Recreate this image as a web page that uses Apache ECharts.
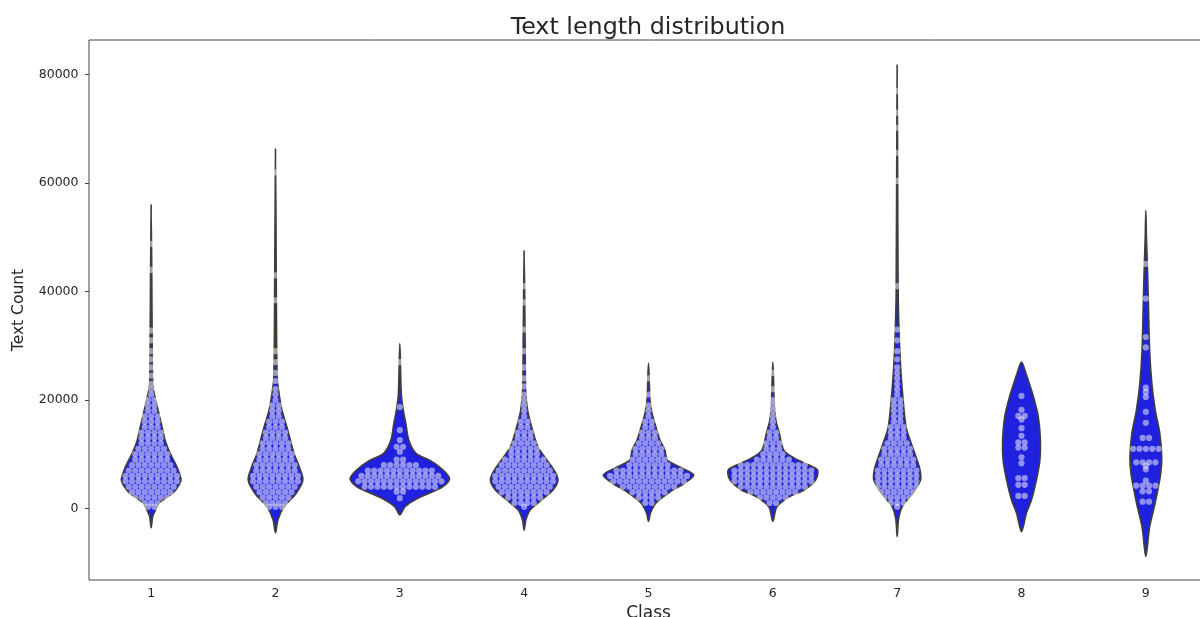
<!DOCTYPE html>
<html>
<head>
<meta charset="utf-8">
<title>Text length distribution</title>
<script src="https://cdn.jsdelivr.net/npm/echarts@6/dist/echarts.min.js"></script>
<style>
  html, body { margin: 0; padding: 0; background: #fff; overflow: hidden; }
  #chart { width: 1208px; height: 617px; }
</style>
</head>
<body>
<div id="chart"></div>
<script>
const CLASSES = ['1', '2', '3', '4', '5', '6', '7', '8', '9'];
const Y_TICKS = [0, 20000, 40000, 60000, 80000];

// violin outline: [text count, relative density (1 = widest violin)]
const violin1 = [[-3600, 0], [-1500, 0.03], [-830, 0.06], [1000, 0.16], [2850, 0.44], [4300, 0.56], [5240, 0.6], [6400, 0.57], [7640, 0.52], [10200, 0.38], [12600, 0.28], [15000, 0.22], [18100, 0.14], [21250, 0.06], [23100, 0.03], [32000, 0.02], [56000, 0]];
const violin2 = [[-4500, 0], [-2100, 0.05], [280, 0.17], [2850, 0.42], [5240, 0.55], [7640, 0.48], [10200, 0.37], [12600, 0.3], [15000, 0.23], [18100, 0.13], [21250, 0.07], [24000, 0.035], [35000, 0.02], [66300, 0]];
const violin3 = [[-1200, 0], [280, 0.1], [1560, 0.3], [2850, 0.6], [3960, 0.86], [5430, 1.0], [6530, 0.93], [7640, 0.8], [8900, 0.6], [10200, 0.32], [12600, 0.18], [15700, 0.12], [18100, 0.07], [21000, 0.03], [30400, 0]];
const violin4 = [[-4000, 0], [-2100, 0.035], [-280, 0.12], [1560, 0.35], [3400, 0.58], [5240, 0.68], [7080, 0.6], [8900, 0.46], [11300, 0.28], [14400, 0.17], [18100, 0.07], [22000, 0.03], [30000, 0.02], [47500, 0]];
const violin5 = [[-2400, 0], [-830, 0.04], [1010, 0.15], [2850, 0.4], [4690, 0.73], [6160, 0.91], [7640, 0.63], [8920, 0.38], [10760, 0.33], [12600, 0.23], [15000, 0.15], [17570, 0.07], [20000, 0.03], [26800, 0]];
const violin6 = [[-2400, 0], [280, 0.08], [2120, 0.33], [3400, 0.63], [5240, 0.86], [7080, 0.9], [8000, 0.73], [9290, 0.43], [10760, 0.22], [13890, 0.13], [16280, 0.06], [19000, 0.03], [27000, 0]];
const violin7 = [[-5200, 0], [-2100, 0.026], [280, 0.1], [2850, 0.32], [5240, 0.47], [7080, 0.46], [9480, 0.38], [12050, 0.28], [15000, 0.18], [19960, 0.12], [26000, 0.07], [32000, 0.04], [40000, 0.02], [81800, 0]];
const violin8 = [[-4300, 0], [-830, 0.1], [1560, 0.2], [5240, 0.3], [8920, 0.37], [12600, 0.38], [16800, 0.34], [19960, 0.26], [22400, 0.18], [24900, 0.09], [27000, 0]];
const violin9 = [[-8900, 0], [-3400, 0.076], [280, 0.17], [3400, 0.24], [6500, 0.3], [9480, 0.32], [13890, 0.28], [18100, 0.19], [23100, 0.12], [29200, 0.076], [38400, 0.05], [45000, 0.03], [50000, 0.012], [55000, 0]];

// swarm points: [text count, number of dots at that level]
const swarm1 = [[300, 2], [1000, 3], [2000, 6], [3000, 7], [4000, 8], [5000, 9], [6000, 9], [7000, 8], [8000, 7], [9000, 6], [10000, 6], [11000, 5], [12000, 4], [13000, 4], [14000, 4], [15000, 3], [16000, 3], [17000, 3], [18000, 2], [19000, 2], [20000, 2], [21000, 1], [22000, 1], [23000, 1], [24500, 1], [26000, 1], [27500, 1], [29000, 1], [31000, 1], [32800, 1], [44000, 1], [48800, 1]];
const swarm2 = [[300, 3], [1000, 4], [2000, 5], [3000, 6], [4000, 7], [5000, 8], [6000, 8], [7000, 7], [8000, 7], [9000, 6], [10000, 6], [11000, 5], [12000, 5], [13000, 4], [14000, 4], [15000, 3], [16000, 3], [17000, 2], [18000, 2], [19000, 2], [20000, 1], [21000, 1], [22000, 1], [23500, 1], [25000, 1], [27000, 1], [29000, 1], [38400, 1], [43000, 1], [62000, 1]];
const swarm3 = [[1900, 1], [3100, 2], [4000, 12], [5000, 14], [6000, 13], [7000, 11], [8000, 6], [9000, 2], [10450, 1], [11370, 2], [12600, 1], [14440, 1], [18700, 1], [27000, 1]];
const swarm4 = [[300, 1], [1000, 4], [2000, 6], [3000, 8], [4000, 9], [5000, 10], [6000, 10], [7000, 9], [8000, 8], [9000, 7], [10000, 5], [11000, 5], [12000, 4], [13000, 3], [14000, 3], [15000, 2], [16000, 2], [17000, 1], [18000, 1], [19000, 1], [20000, 1], [21000, 1], [22500, 1], [24000, 1], [26000, 1], [29000, 1], [33000, 1], [38000, 1], [41000, 1]];
const swarm5 = [[1000, 2], [2000, 4], [3000, 6], [4000, 9], [5000, 12], [6000, 13], [7000, 11], [8000, 7], [9000, 6], [10000, 5], [11000, 5], [12000, 4], [13000, 3], [14000, 3], [15000, 2], [16000, 2], [17000, 1], [18000, 1], [19000, 1], [21000, 1], [24000, 1]];
const swarm6 = [[1000, 2], [2000, 5], [3000, 8], [4000, 11], [5000, 13], [6000, 13], [7000, 13], [8000, 11], [9000, 6], [10000, 4], [11000, 3], [12000, 3], [13000, 2], [14000, 2], [15000, 1], [16000, 1], [17000, 1], [18000, 1], [19000, 1], [20000, 1], [22000, 1], [25000, 1]];
const swarm7 = [[300, 1], [1000, 3], [2000, 5], [3000, 6], [4000, 7], [5000, 7], [6000, 7], [7000, 7], [8000, 6], [9000, 6], [10000, 5], [11000, 5], [12000, 4], [13000, 3], [14000, 3], [15000, 3], [16000, 2], [17000, 2], [18000, 2], [19000, 2], [20000, 2], [21000, 1], [22000, 1], [23000, 1], [24000, 1], [25000, 1], [26000, 1], [27500, 1], [29000, 1], [31000, 1], [33000, 1], [41000, 1], [60400, 1], [65600, 1], [70200, 1], [73000, 1], [77000, 1]];
const swarm8 = [[2300, 2], [4350, 2], [5600, 2], [8320, 1], [9420, 1], [11230, 2], [12200, 2], [13390, 1], [14810, 1], [16410, 1], [17070, 2], [18180, 1], [20750, 1]];
const swarm9 = [[1250, 2], [3150, 2], [4200, 4], [5120, 1], [7210, 1], [7880, 1], [8500, 4], [11000, 5], [13000, 2], [15790, 1], [17810, 1], [20570, 1], [21490, 1], [22300, 1], [29700, 1], [31600, 1], [38700, 1], [45100, 1]];

const VIOLINS = [violin1, violin2, violin3, violin4, violin5, violin6, violin7, violin8, violin9];
const SWARMS = [swarm1, swarm2, swarm3, swarm4, swarm5, swarm6, swarm7, swarm8, swarm9];

const COLORS = {
    violin: '#2020df',
    edge: '#3f3f3f',
    dot: 'rgba(255, 255, 255, 0.5)',
    axis: '#444',
    text: '#262626',
};
const FONT = 'DejaVu Sans';
const DOT_STEP = 6.4;

// expand rows into single dots, slot = position within its row
const dots = [];
SWARMS.forEach((rows, ci) => {
    rows.forEach(([v, n]) => {
        for (let i = 0; i < n; i++) dots.push([ci, v, i - (n - 1) / 2]);
    });
});

function renderViolin(params, api) {
    const ci = params.dataIndex;
    const prof = VIOLINS[ci];
    const cx = api.coord([ci, 0])[0];
    const maxHalf = api.size([1, 0])[0] * 0.4;
    const right = prof.map(([v, w]) => [cx + w * maxHalf, api.coord([ci, v])[1]]);
    const left = prof.slice(1, -1).reverse().map(([v, w]) => [cx - w * maxHalf, api.coord([ci, v])[1]]);
    return {
        type: 'polygon',
        shape: { points: right.concat(left), smooth: 0.3 },
        style: { fill: COLORS.violin, stroke: COLORS.edge, lineWidth: 1.6 },
    };
}

function renderDot(params, api) {
    const p = api.coord([api.value(0), api.value(1)]);
    return {
        type: 'circle',
        shape: { cx: p[0] + api.value(2) * DOT_STEP, cy: p[1], r: 3.1 },
        style: { fill: COLORS.dot },
    };
}

const chart = echarts.init(document.getElementById('chart'), null, { renderer: 'canvas' });
chart.setOption({
    backgroundColor: '#fff',
    animation: false,
    textStyle: { fontFamily: FONT },
    title: {
        text: 'Text length distribution',
        left: 648,
        top: 16,
        padding: 0,
        textAlign: 'center',
        textStyle: { fontFamily: FONT, fontSize: 23.8, fontWeight: 'normal', color: COLORS.text },
    },
    grid: {
        left: 89, right: 0, top: 40, bottom: 37,
        outerBoundsMode: 'none',
        show: true, borderColor: COLORS.axis, borderWidth: 1, backgroundColor: 'transparent',
    },
    xAxis: {
        type: 'category',
        data: CLASSES,
        boundaryGap: true,
        name: 'Class',
        nameLocation: 'middle',
        nameGap: 17,
        nameTextStyle: { fontFamily: FONT, fontSize: 17, color: COLORS.text },
        axisLine: { show: false },
        axisTick: { alignWithLabel: true, length: 4, lineStyle: { color: COLORS.axis } },
        axisLabel: { fontFamily: FONT, fontSize: 12.5, color: COLORS.text, margin: 7 },
        splitLine: { show: false },
    },
    yAxis: {
        type: 'value',
        min: -13200,
        max: 86400,
        name: 'Text Count',
        nameLocation: 'middle',
        nameGap: 62,
        nameRotate: 90,
        nameTextStyle: { fontFamily: FONT, fontSize: 15.5, color: COLORS.text },
        axisLine: { show: false },
        axisTick: { show: true, length: 4, customValues: Y_TICKS, lineStyle: { color: COLORS.axis } },
        axisLabel: { fontFamily: FONT, fontSize: 12.5, color: COLORS.text, margin: 10.5, customValues: Y_TICKS, formatter: v => String(v) },
        splitLine: { show: false },
    },
    series: [
        {
            type: 'custom',
            name: 'violin',
            renderItem: renderViolin,
            data: CLASSES.map((c, i) => [i, 0]),
            z: 2,
            silent: true,
        },
        {
            type: 'custom',
            name: 'swarm',
            renderItem: renderDot,
            data: dots,
            z: 3,
            silent: true,
        },
    ],
});
</script>
</body>
</html>
